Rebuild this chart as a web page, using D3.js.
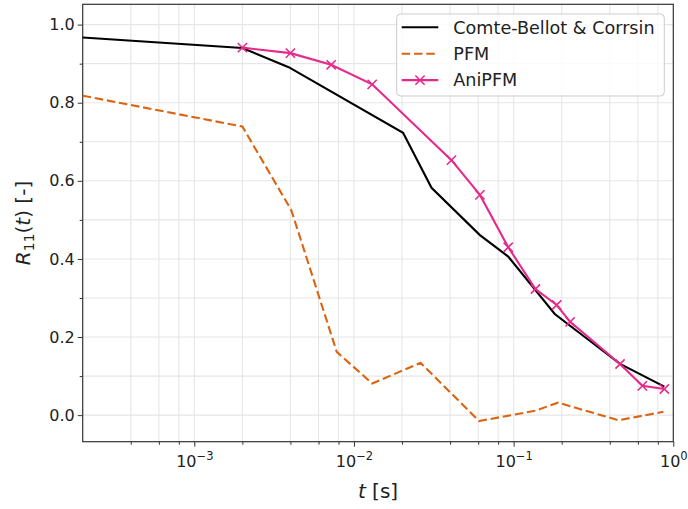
<!DOCTYPE html>
<html>
<head>
<meta charset="utf-8">
<script src="https://cdn.jsdelivr.net/npm/d3@7"></script>
<style>
  body { margin: 0; background: #fff; }
  text { font-family: "DejaVu Sans", sans-serif; fill: #222; }
</style>
</head>
<body>
<div id="chart"></div>
<script>
// Comte-Bellot & Corrsin reference data
const cbcT = [2e-4, 2e-3, 3.9e-3, 0.0203, 0.0306, 0.0615, 0.0925, 0.181, 0.464, 0.879];
const cbcR = [0.967, 0.94, 0.891, 0.723, 0.582, 0.461, 0.406, 0.259, 0.131, 0.073];

// PFM
const pfmT = [2e-4, 2e-3, 4.05e-3, 7.8e-3, 0.013, 0.0261, 0.0608, 0.136, 0.19, 0.453, 0.867];
const pfmR = [0.818, 0.739, 0.525, 0.162, 0.081, 0.134, -0.015, 0.011, 0.032, -0.013, 0.0085];

// AniPFM
const aniT = [2e-3, 4.0e-3, 7.2e-3, 0.013, 0.0408, 0.0615, 0.0925, 0.137, 0.186, 0.226, 0.464, 0.640, 0.879];
const aniR = [0.941, 0.927, 0.897, 0.847, 0.653, 0.564, 0.430, 0.323, 0.282, 0.239, 0.131, 0.075, 0.067];

const xMajor = [1e-3, 1e-2, 1e-1, 1];
const xMajorExp = ["\u22123", "\u22122", "\u22121", "0"];
const yMajor = [0.0, 0.2, 0.4, 0.6, 0.8, 1.0];
const yMinor = [0.1, 0.3, 0.5, 0.7, 0.9];

const seriesNames = ["Comte-Bellot & Corrsin", "PFM", "AniPFM"];
const seriesColors = ["#000000", "#dc6410", "#e7298a"];

const W = 688, H = 509;
const margin = { top: 4.3, right: 688 - 673.3, bottom: 509 - 441.7, left: 82.7 };
const iw = W - margin.left - margin.right;
const ih = H - margin.top - margin.bottom;

const svg = d3.select("#chart").append("svg")
  .attr("width", W).attr("height", H);
const g = svg.append("g")
  .attr("transform", `translate(${margin.left},${margin.top})`);

const x = d3.scaleLog().domain([2e-4, 1]).range([0, iw]);
const y = d3.scaleLinear().domain([-0.068, 1.052]).range([ih, 0]);

// minor x positions: 2,4,6,8 x 10^k
const xMinor = [];
[-4, -3, -2, -1].forEach(k => [2, 4, 6, 8].forEach(m => {
  const v = m * Math.pow(10, k);
  if (v > 2e-4 && v < 1) xMinor.push(v);
}));

// grid
const grid = g.append("g");
grid.selectAll(".gx").data(xMajor.concat(xMinor).filter(v => v < 1)).join("line")
  .attr("x1", d => x(d)).attr("x2", d => x(d))
  .attr("y1", 0).attr("y2", ih)
  .attr("stroke", "#e6e6e6").attr("stroke-width", 1.1);
grid.selectAll(".gy").data(yMajor.concat(yMinor)).join("line")
  .attr("x1", 0).attr("x2", iw)
  .attr("y1", d => y(d)).attr("y2", d => y(d))
  .attr("stroke", "#e6e6e6").attr("stroke-width", 1.1);

// axes
const xAxis = g.append("g").attr("transform", `translate(0,${ih})`)
  .call(d3.axisBottom(x).tickValues(xMajor).tickSize(5).tickFormat(""));
g.append("g").attr("transform", `translate(0,${ih})`)
  .call(d3.axisBottom(x).tickValues(xMinor).tickSize(3).tickFormat(""))
  .call(a => a.select(".domain").remove());
const yAxis = g.append("g")
  .call(d3.axisLeft(y).tickValues(yMajor).tickSize(5).tickFormat(d3.format(".1f")));
g.append("g")
  .call(d3.axisLeft(y).tickValues(yMinor).tickSize(3).tickFormat(""))
  .call(a => a.select(".domain").remove());
g.selectAll(".tick line").attr("stroke", "#333").attr("stroke-width", 1);
yAxis.selectAll("text").style("font-size", "16px").attr("fill", "#222").attr("x", -8);

// x tick labels with exponents
xAxis.selectAll(".tick").each(function(d, i) {
  const t = d3.select(this).append("text")
    .attr("y", 25).attr("text-anchor", "middle")
    .style("font-size", "16px").attr("fill", "#222");
  t.append("tspan").text("10");
  t.append("tspan").attr("dy", -7).style("font-size", "11.5px").text(xMajorExp[i]);
});

// frame
g.append("rect").attr("width", iw).attr("height", ih)
  .attr("fill", "none").attr("stroke", "#333").attr("stroke-width", 1.2);
g.selectAll(".domain").remove();

// lines
const line = d3.line().x(d => x(d[0])).y(d => y(d[1]));
const clip = g.append("g");
clip.append("path").datum(d3.zip(pfmT, pfmR)).attr("d", line)
  .attr("fill", "none").attr("stroke", seriesColors[1]).attr("stroke-width", 2.1)
  .attr("stroke-dasharray", "8.5,3.8");
clip.append("path").datum(d3.zip(cbcT, cbcR)).attr("d", line)
  .attr("fill", "none").attr("stroke", seriesColors[0]).attr("stroke-width", 2.1);
clip.append("path").datum(d3.zip(aniT, aniR)).attr("d", line)
  .attr("fill", "none").attr("stroke", seriesColors[2]).attr("stroke-width", 2.1);

const xMark = s => `M${-s},${-s}L${s},${s}M${-s},${s}L${s},${-s}`;
clip.selectAll(".mk").data(d3.zip(aniT, aniR)).join("path")
  .attr("transform", d => `translate(${x(d[0])},${y(d[1])})`)
  .attr("d", xMark(4.6))
  .attr("stroke", seriesColors[2]).attr("stroke-width", 1.6).attr("fill", "none");

// axis labels
const xl = svg.append("text")
  .attr("x", margin.left + iw / 2).attr("y", 498)
  .attr("text-anchor", "middle").style("font-size", "20px");
xl.append("tspan").style("font-style", "italic").text("t");
xl.append("tspan").text(" [s]");

const yl = svg.append("text")
  .attr("transform", `translate(30,${margin.top + ih / 2}) rotate(-90)`)
  .attr("text-anchor", "middle").style("font-size", "20px");
yl.append("tspan").style("font-style", "italic").text("R");
yl.append("tspan").attr("dy", 4).style("font-size", "14px").text("11");
yl.append("tspan").attr("dy", -4).text("(");
yl.append("tspan").style("font-style", "italic").text("t");
yl.append("tspan").text(") [-]");

// legend
const lg = svg.append("g").attr("transform", "translate(396.7,14)");
lg.append("rect").attr("width", 267.6).attr("height", 82).attr("rx", 4)
  .attr("fill", "#fff").attr("fill-opacity", 0.8)
  .attr("stroke", "#cccccc").attr("stroke-width", 1);
seriesNames.forEach((name, i) => {
  const cy = 13.3 + i * 26.4;
  const ln = lg.append("line").attr("x1", 5).attr("x2", 41.6)
    .attr("y1", cy).attr("y2", cy)
    .attr("stroke", seriesColors[i]).attr("stroke-width", 2.1);
  if (i === 1) ln.attr("stroke-dasharray", "8.5,3.8");
  if (i === 2) lg.append("path").attr("transform", `translate(23.3,${cy})`)
    .attr("d", xMark(4.6)).attr("stroke", seriesColors[2])
    .attr("stroke-width", 1.6).attr("fill", "none");
  lg.append("text").attr("x", 56.6).attr("y", cy + 6.3)
    .style("font-size", "17.6px").text(name);
});
</script>
</body>
</html>
